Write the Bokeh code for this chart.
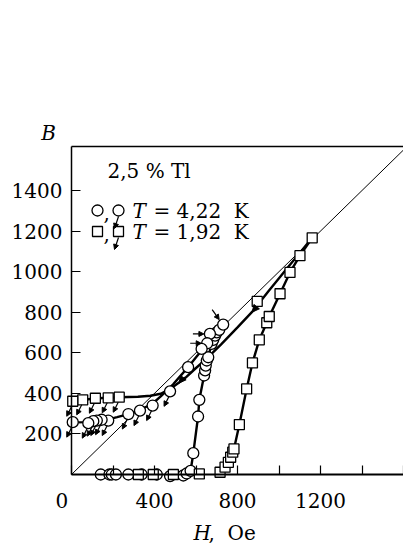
from bokeh.plotting import figure
from bokeh.models import Range1d, FixedTicker, Label, Arrow, NormalHead, LinearAxis
from bokeh.embed import file_html
from bokeh.resources import INLINE

# ---------------- data ----------------
# T = 4.22 K, increasing field (open circles)
c_up_H = [141, 183, 194, 214, 274, 338, 411, 475, 539, 555, 574, 587, 610, 616, 639, 644, 647, 652, 659, 675, 683, 692, 700, 712, 731]
c_up_B = [0, 0, 0, 0, 0, 0, 0, -8, -5, 5, 18, 105, 286, 368, 488, 513, 537, 562, 578, 644, 664, 685, 701, 713, 739]
# T = 4.22 K, decreasing field (circles with arrows)
c_dn_H = [667, 654, 627, 562, 475, 391, 330, 274, 177, 145, 122, 105, 81, 6]
c_dn_B = [693, 647, 619, 529, 410, 340, 315, 298, 266, 270, 266, 263, 253, 258]
# T = 1.92 K, increasing field (open squares)
s_up_H = [322, 394, 491, 616, 716, 740, 756, 767, 777, 783, 809, 844, 872, 905, 941, 953, 1005, 1053, 1101, 1160]
s_up_B = [0, 0, 0, 3, 11, 36, 60, 85, 110, 126, 246, 422, 550, 664, 748, 779, 891, 996, 1079, 1167]
# T = 1.92 K, decreasing field (squares with arrows)
s_dn_H = [895, 230, 177, 115, 54, 6]
s_dn_B = [853, 381, 378, 376, 368, 361]
# drawn guide curves
c_curve_H = [731, 700, 667, 640, 610, 580, 550, 520, 490, 460, 430, 391, 330, 274, 220, 177, 140, 105, 60, 6]
c_curve_B = [739, 700, 660, 630, 590, 552, 515, 480, 445, 415, 385, 350, 318, 298, 283, 272, 266, 262, 258, 256]
s_curve_H = [1160, 1050, 950, 876, 800, 720, 650, 600, 550, 520, 480, 430, 380, 320, 230, 150, 80, 6]
s_curve_B = [1167, 1030, 905, 808, 725, 640, 570, 525, 478, 455, 425, 398, 388, 383, 381, 377, 371, 361]
# arrows pointing to the turning points of the 4.22 K loop
c_turn_H = [731, 667, 654]
c_turn_B = [739, 693, 647]
# direction arrows on the 1.92 K return curve
s_dir_H = [876, 523]
s_dir_B = [808, 458]
# diagonal B = H
diag_H = [0, 1600]
diag_B = [0, 1600]
NB = "\u00a0"
x_ticks = [0, 200, 400, 600, 800, 1000, 1200, 1400, 1600]
x_labels = {0: "0" + NB * 3, 200: "", 400: "400", 600: "", 800: "800", 1000: "", 1200: "1200", 1400: "", 1600: ""}
y_ticks = [200, 400, 600, 800, 1000, 1200, 1400]

FONT = "DejaVu Serif"
XMIN, XMAX = 0, 1600      # extent of the drawn axes
YMIN, YMAX = 0, 1617
W, H = 403, 546
L, T, BOT = 71, 146, 474  # pixel position of the axes box
kx = (XMAX - XMIN) / (W - L)
ky = (YMAX - YMIN) / (BOT - T)


def px(x):
    return XMIN + (x - L) * kx


def py(y):
    return YMIN + (BOT - y) * ky


p = figure(width=W, height=H, x_range=Range1d(px(0), px(W)), y_range=Range1d(py(H), py(0)),
           output_backend="svg", toolbar_location=None, min_border=0)
p.outline_line_color = None
p.grid.visible = False
p.background_fill_color = "white"
p.border_fill_color = "white"

xa, ya = p.xaxis[0], p.yaxis[0]
xa.fixed_location = 0
ya.fixed_location = 0
xa.bounds = (XMIN, XMAX)
ya.bounds = (YMIN, YMAX)
for ax in (xa, ya):
    ax.major_tick_in = 9
    ax.major_tick_out = 0
    ax.minor_tick_line_color = None
    ax.major_tick_line_color = "black"
    ax.major_tick_line_width = 1.2
    ax.axis_line_color = "black"
    ax.major_label_text_font = FONT
    ax.major_label_text_font_size = "20px"
    ax.major_label_text_color = "black"
xa.ticker = FixedTicker(ticks=x_ticks)
xa.major_label_overrides = {k: v for k, v in x_labels.items()}
xa.axis_line_width = 2
xa.major_label_standoff = 14
ya.ticker = FixedTicker(ticks=y_ticks)
ya.axis_line_width = 1.5
ya.major_label_standoff = 9

# top border of the axes box
top = LinearAxis(fixed_location=YMAX, bounds=(XMIN, XMAX), ticker=FixedTicker(ticks=[]),
                 axis_line_color="black", axis_line_width=1.5, major_tick_line_color=None,
                 minor_tick_line_color=None, major_label_text_font_size="0px")
p.add_layout(top, "above")

# diagonal
p.line(diag_H, diag_B, line_color="black", line_width=1)
# curves
p.line(c_up_H[8:], c_up_B[8:], line_color="black", line_width=2.4)
p.line(s_up_H[4:], s_up_B[4:], line_color="black", line_width=2.4)
p.line(c_curve_H, c_curve_B, line_color="black", line_width=2.4)
p.line(s_curve_H, s_curve_B, line_color="black", line_width=2.4)

# markers
mk = dict(fill_color="white", line_color="black", line_width=1.3)
p.scatter(c_up_H, c_up_B, marker="circle", size=11, **mk)
p.scatter(c_dn_H, c_dn_B, marker="circle", size=11, **mk)
p.scatter(s_up_H, s_up_B, marker="square", size=10, **mk)
p.scatter(s_dn_H, s_dn_B, marker="square", size=10, **mk)


def arrow(x0, y0, x1, y1, size=5):
    p.add_layout(Arrow(x_start=x0, y_start=y0, x_end=x1, y_end=y1, line_width=1.2,
                       end=NormalHead(size=size, fill_color="black", line_color="black")))


# down-left arrows on decreasing-field points
for h, b in list(zip(c_dn_H[4:], c_dn_B[4:])) + list(zip(s_dn_H[1:], s_dn_B[1:])):
    arrow(h - 1 * kx, b - 5 * ky, h - 6 * kx, b - 15 * ky)
# arrows pointing to the turning points
arrow(c_turn_H[0] - 11 * kx, c_turn_B[0] + 15 * ky, c_turn_H[0] - 4 * kx, c_turn_B[0] + 5 * ky)
for h, b in zip(c_turn_H[1:], c_turn_B[1:]):
    arrow(h - 17 * kx, b, h - 6 * kx, b)
# direction arrows on return curve
for h, b in zip(s_dir_H, s_dir_B):
    arrow(h + 3 * kx, b + 3.5 * ky, h - 1 * kx, b - 1.5 * ky, size=7)

# legend
lab = dict(text_font=FONT, text_font_size="20px", text_color="black", text_baseline="middle")
p.add_layout(Label(x=px(107), y=py(170), text="2,5 % Tl", **lab))
for row_y, mkr, sz, txt in ((210, "circle", 11, "=" + NB + "4,22" + NB + NB + "K"),
                            (231, "square", 10, "=" + NB + "1,92" + NB + NB + "K")):
    p.scatter([px(97), px(118)], [py(row_y), py(row_y)], marker=mkr, size=sz, **mk)
    p.add_layout(Label(x=px(103), y=py(row_y + 2), text=",", **lab))
    arrow(px(118), py(row_y + 6), px(114), py(row_y + 18))
    p.add_layout(Label(x=px(132), y=py(row_y), text="T", text_font_style="italic", **lab))
    p.add_layout(Label(x=px(153), y=py(row_y), text=txt, **lab))

# axis titles
p.add_layout(Label(x=px(48), y=py(132), text="B", text_font_style="italic", text_align="center", **lab))
p.add_layout(Label(x=px(193), y=py(532), text="H", text_font_style="italic", **lab))
p.add_layout(Label(x=px(208), y=py(532), text="," + NB + NB + "Oe", **lab))

open("out.html", "w").write(file_html(p, INLINE))
